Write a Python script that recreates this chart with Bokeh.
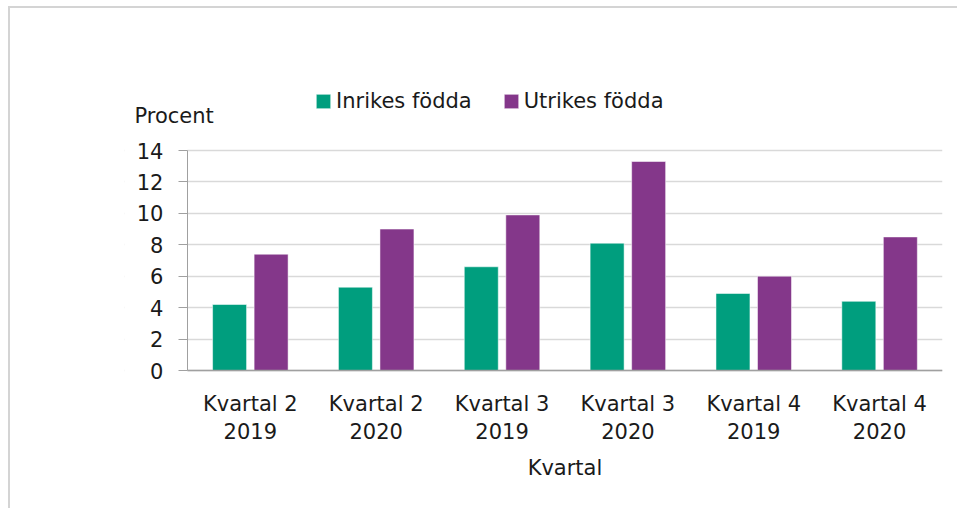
from bokeh.plotting import figure
from bokeh.models import (ColumnDataSource, Range1d, SingleIntervalTicker, FixedTicker,
                          Legend, LegendItem, Label, BoxAnnotation)
from bokeh.embed import file_html
from bokeh.resources import INLINE

# ---- data ----
categories = ["Kvartal 2\n2019", "Kvartal 2\n2020", "Kvartal 3\n2019",
              "Kvartal 3\n2020", "Kvartal 4\n2019", "Kvartal 4\n2020"]
inrikes = [4.2, 5.3, 6.6, 8.1, 4.9, 4.4]
utrikes = [7.4, 9.0, 9.9, 13.3, 6.0, 8.5]
series_names = ["Inrikes födda", "Utrikes födda"]
y_label = "Procent"
x_label = "Kvartal"
y_max = 14

GREEN = "#009E7E"
PURPLE = "#84378A"
FONT = "DejaVu Sans"
TXT = "#1a1a1a"
OFF = 0.165
BAR_W = 0.27

idx = list(range(len(categories)))
source = ColumnDataSource(dict(
    xi=[i - OFF for i in idx], xu=[i + OFF for i in idx],
    inr=inrikes, utr=utrikes))

# The frame covers the whole chart area (axes are drawn at fixed locations
# inside it) so that no text is clipped.
PPU = 220 / y_max            # pixels per unit on the y axis
p = figure(width=949, height=502,
           x_range=Range1d(-1.0, len(categories) - 0.5),
           y_range=Range1d(-136 / PPU, 310 / PPU),
           output_backend="svg", toolbar_location=None, title=None,
           min_border_left=114, min_border_right=17, min_border_top=52,
           min_border_bottom=4)
p.outline_line_color = None
p.background_fill_color = "white"
p.border_fill_color = "white"
p.styles = {"margin-left": "8px", "margin-top": "6px",
            "border-left": "2px solid #d4d4d4", "border-top": "2px solid #d4d4d4"}

r1 = p.vbar(x="xi", top="inr", bottom=0, width=BAR_W, source=source,
            fill_color=GREEN, line_color="white", line_alpha=0.5, line_width=1)
r2 = p.vbar(x="xu", top="utr", bottom=0, width=BAR_W, source=source,
            fill_color=PURPLE, line_color="white", line_alpha=0.5, line_width=1)

# y axis, drawn at the left edge of the category area
p.yaxis.fixed_location = -0.5
p.yaxis.bounds = (0, y_max)
p.yaxis.ticker = SingleIntervalTicker(interval=2)
p.yaxis.minor_tick_line_color = None
p.yaxis.major_tick_out = 9
p.yaxis.major_tick_in = 0
p.yaxis.major_tick_line_color = "#a0a0a0"
p.yaxis.axis_line_color = "#a0a0a0"
p.yaxis.major_label_standoff = 15
p.yaxis.major_label_text_font = FONT
p.yaxis.major_label_text_font_size = "21px"
p.yaxis.major_label_text_color = TXT

# x axis with category labels, drawn at y = 0
p.xaxis.fixed_location = 0
p.xaxis.ticker = FixedTicker(ticks=idx)
p.xaxis.major_label_overrides = {i: c for i, c in zip(idx, categories)}
p.xaxis.bounds = (-0.5, len(categories) - 0.5)
p.xaxis.major_tick_line_color = None
p.xaxis.minor_tick_line_color = None
p.xaxis.axis_line_color = "#a0a0a0"
p.xaxis.axis_line_width = 1.5
p.xaxis.major_label_standoff = 15
p.xaxis.major_label_text_font = FONT
p.xaxis.major_label_text_font_size = "21px"
p.xaxis.major_label_text_line_height = 1.17
p.xaxis.major_label_text_color = TXT
p.xaxis.axis_label = x_label
p.xaxis.axis_label_text_font = FONT
p.xaxis.axis_label_text_font_size = "21px"
p.xaxis.axis_label_text_font_style = "normal"
p.xaxis.axis_label_text_color = TXT
p.xaxis.axis_label_standoff = 9

p.xgrid.grid_line_color = None
p.ygrid.grid_line_color = "#d9d9d9"
p.ygrid.grid_line_width = 1.5

# white mask so that grid lines start at the y axis
p.add_layout(BoxAnnotation(right=-0.5, fill_color="white", fill_alpha=1,
                           line_color=None, level="underlay"))

# y axis title above the axis (screen offsets from the frame's bottom-left)
p.add_layout(Label(x=10, y=391, x_units="screen", y_units="screen", text=y_label,
                   text_font=FONT, text_font_size="21px", text_color=TXT,
                   text_align="left", text_baseline="middle"))

legend = Legend(items=[LegendItem(label=series_names[0], renderers=[r1]),
                       LegendItem(label=series_names[1], renderers=[r2])],
                orientation="horizontal", location=(190, 393.5),
                glyph_width=18, glyph_height=18, label_standoff=4, spacing=30,
                padding=0, margin=0, border_line_color=None,
                background_fill_alpha=0, label_text_font=FONT,
                label_text_font_size="21px", label_text_color=TXT)
p.add_layout(legend)

open("out.html", "w").write(file_html(p, INLINE))
